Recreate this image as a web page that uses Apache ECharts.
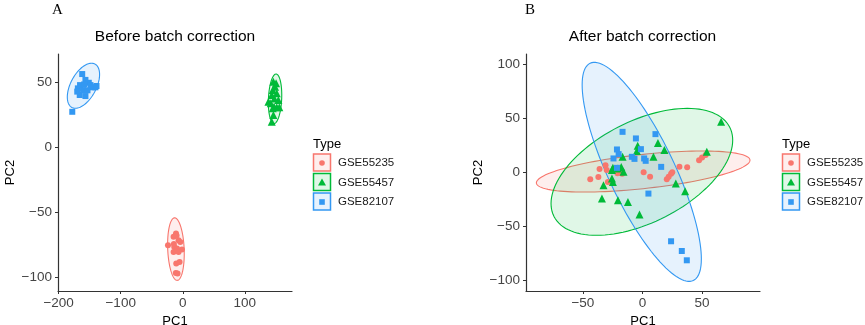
<!DOCTYPE html>
<html>
<head>
<meta charset="utf-8">
<script src="https://cdn.jsdelivr.net/npm/echarts@6/dist/echarts.min.js"></script>
<style>
  html, body { margin: 0; padding: 0; background: #fff; }
  #chart { width: 865px; height: 325px; }
</style>
</head>
<body>
<div id="chart"></div>
<script>
// batches
const batches = ['GSE55235', 'GSE55457', 'GSE82107'];
const batchColors = ['#F8766D', '#00BA38', '#3398F2'];
const batchSymbols = ['circle', 'triangle', 'rect'];

// PCA before correction [PC1, PC2]
const beforeGSE55235 = [[-23.8,-75],[-10.9,-66],[-14.8,-68.6],[-6.8,-71.2],[-4,-72.5],[-13.7,-76.3],[-9.3,-77.5],[-1.3,-78.3],[-14.8,-80.2],[-6.8,-80.2],[-10.5,-89],[-5.1,-88],[-8.4,-96.8],[-11.2,-96.3],[-10,-67.5],[-14.3,-74]];
const beforeGSE55457 = [[146,50.6],[148.7,46.8],[145,44.2],[151.4,41.7],[143.4,40.4],[147.6,37.8],[154,36.5],[138,35.2],[141.8,34],[147.1,31.4],[151.4,30.9],[155.6,30.9],[145,30.2],[143.4,19.8],[150.3,49.4],[146,25]];
const beforeGSE82107 = [[-178,27.5],[-162,56.5],[-169,45.5],[-165.5,48],[-156.8,52],[-151.4,49.8],[-146,46.3],[-140.7,46.3],[-170,43],[-166,40.4],[-156.8,39.6],[-160.5,44.2],[-153.5,44],[-148.7,48],[-139,47.3],[-159,48.5]];

// PCA after correction
const afterGSE55235 = [[-43.8,-6.5],[-37,-4.5],[-36,3],[-31,6.5],[-30,2],[-29,-9],[-21,-1],[-17,-1.5],[1,0],[6.4,-4.3],[20.4,-6.5],[22,-4.3],[24,-1.5],[25,0],[31,5],[37.5,4.5],[47.5,11],[50,13.5],[53,16]];
const afterGSE55457 = [[66,46.6],[13,27],[-4,24.4],[-4.7,19.7],[18.4,20.4],[-16.7,14.2],[9.2,14.2],[54,18.8],[-24.8,4],[-17.8,4.9],[-25.6,1.9],[-20.6,3.4],[-15.9,0.3],[-25.6,-5.9],[-24.8,-9],[-32.7,-12],[-34,-24.4],[-20.6,-25.9],[-12.2,-27.5],[-2.5,-39.2],[28,-10.5],[35.8,-17.6]];
const afterGSE82107 = [[-16.7,37.3],[-5.5,31.2],[10.9,35.2],[-21.4,21],[-1.3,21.3],[-20,16.7],[-24.3,12.7],[-8.9,14.2],[-6.7,12.3],[1.4,12.7],[2.7,10.5],[-21.4,4],[15.7,4.9],[5,-19.8],[24,-63.9],[33,-72.9],[37.2,-81.5]];

// ellipses per batch: [centre PC1, centre PC2, half-width PC1, half-height PC2, correlation]
const beforeEllipses = [[-11,-78,13.4,24,-0.15],[148.7,37.5,10.8,19,0.15],[-160,47.5,26,17.3,0.5]];
const afterEllipses = [[0.6,0.6,89.6,19,0.55],[-0.5,0.3,76.2,58.7,0.5],[-0.6,0.3,50,101.3,-0.794]];

// tick labels
const beforeXTicks = [-200, -100, 0, 100];
const beforeYTicks = [-100, -50, 0, 50];
const afterXTicks = [-50, 0, 50];
const afterYTicks = [-100, -50, 0, 50, 100];

const FONT = 'Liberation Sans, Arial, sans-serif';

function rgba(hex, a) {
  const n = parseInt(hex.slice(1), 16);
  return 'rgba(' + (n >> 16) + ',' + ((n >> 8) & 255) + ',' + (n & 255) + ',' + a + ')';
}

function axis(gridIndex, min, max, ticks, name, isY) {
  return {
    type: 'value', gridIndex: gridIndex, min: min, max: max,
    name: name, nameLocation: 'middle', nameGap: isY ? 41 : 22,
    nameTextStyle: { color: '#000', fontSize: 13, fontFamily: FONT },
    axisLine: { show: true, onZero: false, lineStyle: { color: '#333', width: 1.2 } },
    axisTick: { show: true, customValues: ticks, length: 3, lineStyle: { color: '#333' } },
    axisLabel: {
      customValues: ticks, color: '#444', fontSize: 13.5, fontFamily: FONT, margin: isY ? 6 : 5,
      formatter: v => String(v).replace('-', '\u2212')
    },
    splitLine: { show: false }
  };
}

function ellipseSeries(gridIndex, ellipses) {
  return {
    type: 'custom', xAxisIndex: gridIndex, yAxisIndex: gridIndex, z: 1,
    silent: true,
    data: ellipses,
    encode: { x: 0, y: 1 },
    renderItem: function (params, api) {
      const cx = api.value(0), cy = api.value(1), rx = api.value(2), ry = api.value(3), r = api.value(4);
      const s = Math.sqrt(1 - r * r);
      const pts = [];
      for (let k = 0; k < 120; k++) {
        const t = k / 120 * Math.PI * 2;
        pts.push(api.coord([cx + rx * Math.cos(t), cy + ry * (r * Math.cos(t) + s * Math.sin(t))]));
      }
      const c = batchColors[params.dataIndex];
      return {
        type: 'polygon', shape: { points: pts },
        style: { fill: rgba(c, 0.12), stroke: c, lineWidth: 1.1 }
      };
    }
  };
}

function scatter(gridIndex, i, data) {
  return {
    type: 'scatter', name: batches[i], xAxisIndex: gridIndex, yAxisIndex: gridIndex, z: 3,
    data: data,
    symbol: batchSymbols[i],
    symbolSize: i === 1 ? 8 : 6,
    itemStyle: { color: batchColors[i], opacity: 1 }
  };
}

function legendGraphic(x0, y0) {
  const els = [{
    type: 'text', x: x0, y: y0 - 10,
    style: { text: 'Type', font: '13px ' + FONT, fill: '#000', textVerticalAlign: 'middle' }
  }];
  batches.forEach((b, i) => {
    const top = y0 + i * 19.5;
    const cx = x0 + 9, cy = top + 9;
    els.push({
      type: 'rect', shape: { x: x0 + 0.5, y: top, width: 17, height: 17 },
      style: { fill: rgba(batchColors[i], 0.12), stroke: batchColors[i], lineWidth: 1.5 }
    });
    if (i === 0) {
      els.push({ type: 'circle', shape: { cx: cx, cy: cy, r: 2.8 }, style: { fill: batchColors[i] } });
    } else if (i === 1) {
      els.push({ type: 'polygon', shape: { points: [[cx, cy - 4], [cx - 4, cy + 3], [cx + 4, cy + 3]] }, style: { fill: batchColors[i] } });
    } else {
      els.push({ type: 'rect', shape: { x: cx - 2.8, y: cy - 2.8, width: 5.6, height: 5.6 }, style: { fill: batchColors[i] } });
    }
    els.push({
      type: 'text', x: x0 + 25, y: cy,
      style: { text: b, font: '11.5px ' + FONT, fill: '#1a1a1a', textVerticalAlign: 'middle' }
    });
  });
  return els;
}

const chart = echarts.init(document.getElementById('chart'), null, { renderer: 'canvas' });

chart.setOption({
  animation: false,
  backgroundColor: '#fff',
  grid: [
    { left: 58, top: 54, width: 234, height: 237, containLabel: false, outerBoundsMode: 'none' },
    { left: 526, top: 54, width: 234, height: 237, containLabel: false, outerBoundsMode: 'none' }
  ],
  xAxis: [
    axis(0, -201, 176, beforeXTicks, 'PC1', false),
    axis(1, -97.7, 98.6, afterXTicks, 'PC1', false)
  ],
  yAxis: [
    axis(0, -110.2, 71.9, beforeYTicks, 'PC2', true),
    axis(1, -109.9, 109.3, afterYTicks, 'PC2', true)
  ],
  graphic: [
    { type: 'text', x: 52, y: 10, style: { text: 'A', font: '15px Liberation Serif, serif', fill: '#000', textVerticalAlign: 'middle' } },
    { type: 'text', x: 525, y: 10, style: { text: 'B', font: '15px Liberation Serif, serif', fill: '#000', textVerticalAlign: 'middle' } },
    { type: 'text', x: 175, y: 37, style: { text: 'Before batch correction', font: '15.5px ' + FONT, fill: '#000', textAlign: 'center', textVerticalAlign: 'middle' } },
    { type: 'text', x: 642.5, y: 37, style: { text: 'After batch correction', font: '15.5px ' + FONT, fill: '#000', textAlign: 'center', textVerticalAlign: 'middle' } }
  ].concat(legendGraphic(313, 154), legendGraphic(782, 154)),
  series: [
    ellipseSeries(0, beforeEllipses),
    ellipseSeries(1, afterEllipses),
    scatter(0, 0, beforeGSE55235),
    scatter(0, 1, beforeGSE55457),
    scatter(0, 2, beforeGSE82107),
    scatter(1, 0, afterGSE55235),
    scatter(1, 1, afterGSE55457),
    scatter(1, 2, afterGSE82107)
  ]
});
</script>
</body>
</html>
